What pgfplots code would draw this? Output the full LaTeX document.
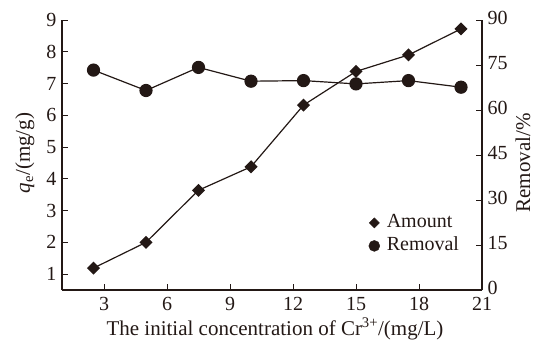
\documentclass[border=0pt]{standalone}
\usepackage{fontspec}
\setmainfont{Liberation Serif}
\usepackage{pgfplots}
\pgfplotsset{compat=1.18}
\definecolor{ink}{HTML}{231815}

\begin{document}
\begin{tikzpicture}
% page frame: the axis box sits at (0,0)--(420pt,270pt)
\useasboundingbox (-62pt,-50pt) rectangle (473pt,290pt);
\pgfplotsset{
  common/.style={
    scale only axis, width=420pt, height=270pt,
    xmin=1, xmax=21,
    /pgf/number format/assume math mode=true,
    tick style={ink, line width=1pt},
    major tick length=6pt,
    axis line style={ink, line width=1.5pt},
    tick label style={font=\fontsize{20}{24}\selectfont, text=ink},
    label style={font=\fontsize{21}{25}\selectfont, text=ink},
  },
}
% adsorption amount, left axis
\begin{axis}[common,
  axis x line*=bottom, axis y line*=left,
  ymin=0.5, ymax=9,
  ytick={1,2,...,9},
  xtick={3,6,...,21},
  xticklabel style={yshift=-3.5pt},
  yticklabel style={xshift=-2pt},
  xlabel={The initial concentration of Cr\textsuperscript{3+}/(mg/L)},
  ylabel={\textit{q}\textsubscript{e}/(mg/g)},
  xlabel style={at={([shift={(3pt,-45pt)}]rel axis cs:0.5,0)}, anchor=base},
  ylabel style={at={([shift={(-32pt,2pt)}]rel axis cs:0,0.5)}, anchor=base, rotate=0},
  legend style={draw=none, fill=none, inner sep=0pt,
    at={(rel axis cs:0.73,0.29)}, anchor=north west,
    font=\fontsize{20}{24}\selectfont, text=ink, row sep=1pt,
    nodes={text height=14pt, text depth=4pt, inner sep=2pt},
    /tikz/every odd column/.append style={column sep=5pt}},
  legend cell align=left,
]
\addplot[ink, line width=1.2pt, mark=square*, mark size=4pt,
  mark options={solid, fill=ink, rotate=45}, forget plot]
  coordinates {(2.5,1.19) (5,2.0) (7.5,3.64) (10,4.38) (12.5,6.32)
               (15,7.38) (17.5,7.90) (20,8.72)};
\addlegendimage{ink, only marks, mark=square*, mark size=3.6pt,
  mark options={fill=ink, rotate=45}}
\addlegendentry{Amount}
\addlegendimage{ink, only marks, mark=*, mark size=5.5pt, mark options={fill=ink}}
\addlegendentry{Removal}
\end{axis}
% removal percentage, right axis
\begin{axis}[common,
  axis y line*=right, axis x line=none,
  ymin=0, ymax=90,
  ytick={0,15,...,90},
  yticklabel style={xshift=2pt, yshift=2pt},
  ylabel={Removal/\%},
  ylabel style={at={([shift={(48pt,-8pt)}]rel axis cs:1,0.5)}, anchor=base, rotate=0},
]
\addplot[ink, line width=1.2pt, mark=*, mark size=6pt, mark options={fill=ink}]
  coordinates {(2.5,73.3) (5,66.5) (7.5,74.2) (10,69.6) (12.5,69.8)
               (15,68.7) (17.5,69.8) (20,67.6)};
\end{axis}
\end{tikzpicture}
\end{document}
